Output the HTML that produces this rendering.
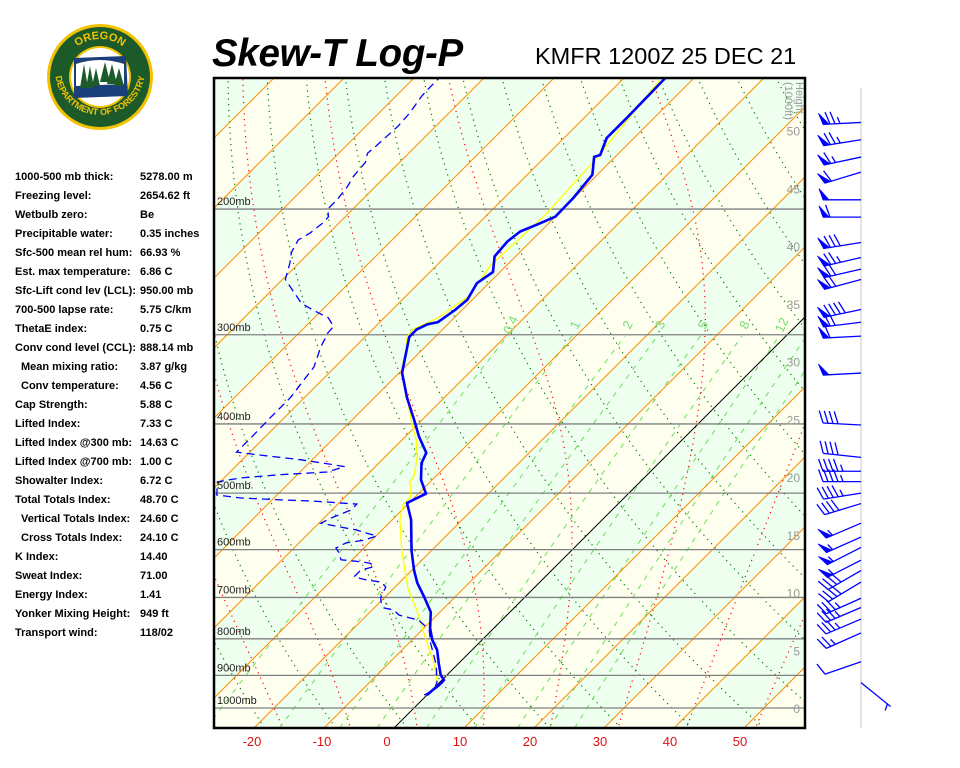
<!DOCTYPE html>
<html><head><meta charset="utf-8"><title>Skew-T Log-P KMFR</title>
<style>
html,body{margin:0;padding:0;background:#fff;}
body{width:960px;height:768px;overflow:hidden;position:relative;font-family:"Liberation Sans",Arial,sans-serif;}
.stats{position:absolute;left:15px;top:169px;font:bold 11px "Liberation Sans",Arial,sans-serif;color:#000;}
.row{height:19px;line-height:16px;position:relative;white-space:nowrap;}
.row .v{position:absolute;left:125px;top:0;}
.row.ind{padding-left:6px;}
</style></head>
<body>
<svg id="logo" width="210" height="150" style="position:absolute;left:0;top:20px" viewBox="0 0 210 150">
  <circle cx="100" cy="57" r="53" fill="#f2c200"/>
  <circle cx="100" cy="57" r="50" fill="#1d5a2a"/>
  <circle cx="100" cy="57" r="31" fill="#f2c200"/>
  <circle cx="100" cy="57" r="29" fill="#fff"/>
  <defs>
    <path id="arcTop" d="M62,57 A38,38 0 0 1 138,57"/>
    <path id="arcBot" d="M55,50 A45,45 0 0 0 145,50"/>
  </defs>
  <text font-family="Liberation Sans" font-weight="bold" font-size="11" fill="#f2c200"><textPath href="#arcTop" startOffset="50%" text-anchor="middle">OREGON</textPath></text>
  <text font-family="Liberation Sans" font-weight="bold" font-size="9" fill="#f2c200"><textPath href="#arcBot" startOffset="50%" text-anchor="middle">DEPARTMENT OF FORESTRY</textPath></text>
  <path d="M74,38 L126,36 L128,76 L74,78 Z" fill="#1a3f7a"/>
  <path d="M76,44 Q100,36 124,44 L124,64 L76,66 Z" fill="#fff"/>
  <g fill="#1d5a2a">
    <polygon points="80,68 84,44 88,68"/><polygon points="86,68 90,46 94,68"/>
    <polygon points="92,66 96,48 100,66"/><polygon points="100,62 105,42 110,62"/>
    <polygon points="107,64 112,44 117,64"/><polygon points="114,66 119,48 124,66"/>
  </g>
</svg>

<div class="stats">
<div class="row">1000-500 mb thick:<span class="v">5278.00 m</span></div>
<div class="row">Freezing level:<span class="v">2654.62 ft</span></div>
<div class="row">Wetbulb zero:<span class="v">Be</span></div>
<div class="row">Precipitable water:<span class="v">0.35 inches</span></div>
<div class="row">Sfc-500 mean rel hum:<span class="v">66.93 %</span></div>
<div class="row">Est. max temperature:<span class="v">6.86 C</span></div>
<div class="row">Sfc-Lift cond lev (LCL):<span class="v">950.00 mb</span></div>
<div class="row">700-500 lapse rate:<span class="v">5.75 C/km</span></div>
<div class="row">ThetaE index:<span class="v">0.75 C</span></div>
<div class="row">Conv cond level (CCL):<span class="v">888.14 mb</span></div>
<div class="row ind">Mean mixing ratio:<span class="v">3.87 g/kg</span></div>
<div class="row ind">Conv temperature:<span class="v">4.56 C</span></div>
<div class="row">Cap Strength:<span class="v">5.88 C</span></div>
<div class="row">Lifted Index:<span class="v">7.33 C</span></div>
<div class="row">Lifted Index @300 mb:<span class="v">14.63 C</span></div>
<div class="row">Lifted Index @700 mb:<span class="v">1.00 C</span></div>
<div class="row">Showalter Index:<span class="v">6.72 C</span></div>
<div class="row">Total Totals Index:<span class="v">48.70 C</span></div>
<div class="row ind">Vertical Totals Index:<span class="v">24.60 C</span></div>
<div class="row ind">Cross Totals Index:<span class="v">24.10 C</span></div>
<div class="row">K Index:<span class="v">14.40</span></div>
<div class="row">Sweat Index:<span class="v">71.00</span></div>
<div class="row">Energy Index:<span class="v">1.41</span></div>
<div class="row">Yonker Mixing Height:<span class="v">949 ft</span></div>
<div class="row">Transport wind:<span class="v">118/02</span></div>
</div>

<div style="position:absolute;left:212px;top:32px;font:italic bold 38.5px 'Liberation Sans',Arial,sans-serif;letter-spacing:-0.3px;">Skew-T Log-P</div>
<div style="position:absolute;left:535px;top:43px;font:23.5px 'Liberation Sans',Arial,sans-serif;">KMFR 1200Z 25 DEC 21</div>

<svg id="chart" width="960" height="768" style="position:absolute;left:0;top:0" xmlns="http://www.w3.org/2000/svg">
  <defs><clipPath id="plotclip"><rect x="214" y="78" width="591" height="650"/></clipPath></defs>
  <g id="bg" clip-path="url(#plotclip)"></g>
  <g id="grid" clip-path="url(#plotclip)"></g>
  <g id="series" clip-path="url(#plotclip)"></g>
  <g id="labels"></g>
  <g id="winds"></g>
</svg>

<script>
// ---- data ----
const tempP = [959,944,931,914,899,865,829,803,773,734,699,668,641,601,545,516,501,479,454,439,417,395,367,339,325,302,295,290,288,277,268,254,245,233,222,215,210,205,193,179,169,168,159,149,139,131];
const tempT = [0.0,0.1,0.3,0.3,-0.9,-2.9,-5.0,-7.1,-9.1,-11.3,-14.4,-17.4,-19.7,-22.9,-27.3,-30.3,-28.9,-31.6,-33.9,-34.7,-38.0,-41.1,-45.4,-49.6,-51.1,-53.7,-53.7,-52.9,-51.7,-51.0,-50.7,-51.7,-51.0,-53.0,-53.3,-52.9,-51.4,-50.0,-50.1,-50.7,-53.0,-52.4,-53.9,-53.9,-54.0,-54.1];
const dewP = [959,944,920,870,811,777,753,741,729,724,710,699,677,666,662,655,641,634,627,624,620,606,597,587,582,574,569,563,558,551,542,528,518,513,511,508,503,482,476,471,467,459,454,449,443,438,418,391,367,347,333,312,298,292,284,277,271,251,238,230,221,216,209,205,200,194,186,180,172,167,163,153,147,139,135,131];
const dewT = [-0.4,0.3,-0.4,-3.0,-6.9,-9.0,-11.9,-15.4,-16.9,-18.6,-19.9,-20.6,-21.3,-22.7,-25.0,-27.3,-27.3,-25.9,-26.9,-28.4,-31.6,-32.9,-34.0,-33.3,-31.1,-29.9,-31.7,-33.7,-36.3,-39.7,-39.0,-37.3,-37.3,-43.9,-48.7,-54.7,-58.6,-60.4,-57.6,-52.3,-46.1,-44.4,-47.9,-51.6,-57.4,-61.9,-61.9,-62.0,-62.0,-62.6,-63.0,-64.9,-65.9,-66.0,-68.0,-71.3,-73.9,-79.6,-81.3,-82.6,-83.4,-82.7,-82.3,-82.4,-83.6,-83.6,-84.0,-84.6,-84.9,-85.9,-85.7,-85.4,-85.6,-86.3,-86.4,-86.4];
const wbP = [944,908,857,803,729,683,641,601,545,519,506,490,482,475,445,421,399,382,358,336,315,302,295,284,265,240,204,171,132];
const wbT = [0.4,-1.0,-4.1,-8.0,-13.6,-17.7,-21.0,-24.3,-28.9,-30.6,-30.7,-32.0,-33.0,-33.0,-35.4,-38.0,-41.0,-43.3,-46.6,-50.1,-52.3,-54.0,-54.3,-52.3,-51.0,-52.3,-51.7,-52.4,-54.6];
const pressureLevels = [1000,900,800,700,600,500,400,300,200];
const pressureLabels = ["1000mb","900mb","800mb","700mb","600mb","500mb","400mb","300mb","200mb"];
const tempTicks = [-20,-10,0,10,20,30,40,50];
const tempTickX = [252,322,387,460,530,600,670,740];
const heightTicks = [0,5,10,15,20,25,30,35,40,45,50];
const mixRatios = [0.4,1,2,3,5,8,12,16,20];
const mixLabels = ["0.4","1","2","3","5","8","12","16","20"];
const windH = [50.7,49.2,47.7,46.4,44.0,42.5,40.3,39.0,38.0,37.1,34.5,33.4,32.2,29.0,24.5,21.7,20.5,19.6,18.6,17.7,16.0,14.8,13.9,12.8,11.9,10.9,9.5,8.7,7.7,6.5,4.0,2.2];
const windDir = [267,261,258,253,270,270,261,257,257,255,258,263,267,267,273,276,270,270,261,253,247,246,243,243,240,239,246,247,247,246,251,129];
const windSpd = [75,75,65,60,50,60,80,75,70,70,90,70,60,50,40,40,45,45,45,40,55,55,55,55,40,40,35,35,35,25,10,5];

// ---- axes ----
const NS='http://www.w3.org/2000/svg';
const Y0=708, KY=310, X0=414, KX=7, XL=214, XR=805, YT=78, YB=728;
function yP(p){return Y0-KY*Math.log(1000/p);}
function xT(T,y){return X0+KX*T+(Y0-y);}
function pY(y){return 1000*Math.exp(-(Y0-y)/KY);}
function yH(h){return Y0-11.55*h;}
function mk(tag,attrs,parent){const e=document.createElementNS(NS,tag);for(const k in attrs)e.setAttribute(k,attrs[k]);parent.appendChild(e);return e;}
const bg=document.getElementById('bg'), grid=document.getElementById('grid'), series=document.getElementById('series'), labels=document.getElementById('labels'), winds=document.getElementById('winds');

for(let a=-120;a<100;a+=10){
  const x1b=xT(a,YB), x2b=xT(a+10,YB), x1t=xT(a,YT), x2t=xT(a+10,YT);
  const band=mk('polygon',{points:`${x1b},${YB} ${x2b},${YB} ${x2t},${YT} ${x1t},${YT}`,fill:(Math.round(a/10)%2===0)?'#eefff0':'#fffff0'},bg);
  
  
}
function pathFrom(pts){return 'M'+pts.map(q=>q[0].toFixed(1)+','+q[1].toFixed(1)).join(' L');}
for(let th=200;th<=520;th+=10){
  const pts=[];
  for(let y=YB;y>=YT;y-=4){const p=pY(y);const T=th*Math.pow(p/1000,0.286)-273.15;pts.push([xT(T,y),y]);}
  const e=mk('path',{d:pathFrom(pts),fill:'none',stroke:'#007a00','stroke-width':1.2,'stroke-dasharray':'1.2,4.5'},grid);
  
  
}
function es(Tc){return 6.112*Math.exp(17.67*Tc/(Tc+243.5));}
function moistRate(Tk,p){const rs=0.622*es(Tk-273.15)/(p-es(Tk-273.15));return (287*Tk+2.5e6*rs)/(1004+(2.5e6*2.5e6*rs*0.622)/(287*Tk*Tk))/p;}
for(let t0=-50;t0<=50;t0+=10){
  let pts=[];let T=t0+273.15,p=1000;
  while(p<1075){const np=p+2;T+=moistRate(T,p)*2;p=np;}
  for(;p>=125;p-=2){const y=yP(p);pts.push([xT(T-273.15,y),y]);T-=moistRate(T,p)*2;}
  const e=mk('path',{d:pathFrom(pts),fill:'none',stroke:'#ff0000','stroke-width':1.2,'stroke-dasharray':'1.2,4.5'},grid);
  
  
}
mixRatios.forEach((w,i)=>{
  const pts=[];
  for(let y=YB;y>=yP(300);y-=4){const p=pY(y);const e=w*p/(622+w);const l=Math.log(e/6.112);const Td=243.5*l/(17.67-l);pts.push([xT(Td,y),y]);}
  const e=mk('path',{d:pathFrom(pts),fill:'none',stroke:'#66dd55','stroke-width':1,'stroke-dasharray':'5,6'},grid);
  
  
  const ly=yP(300)-8, lp=pY(ly), ee=w*lp/(622+w), ll=Math.log(ee/6.112), td=243.5*ll/(17.67-ll);
  const lx=xT(td,ly);
  if(lx<XR+2){
    const t=mk('text',{x:lx,y:ly,'font-size':13,fill:'#77dd77','font-family':'Liberation Sans, sans-serif','text-anchor':'middle',transform:`rotate(-65 ${lx} ${ly})`},labels);
    t.textContent=mixLabels[i];
    
    
  }
});
for(let T=-120;T<=100;T+=10){
  const e=mk('line',{x1:xT(T,YB),y1:YB,x2:xT(T,YT),y2:YT,stroke:T===0?'#000':'#ff8c00','stroke-width':1},grid);
  
  
}
pressureLevels.forEach((p,i)=>{
  const y=yP(p);
  const e=mk('line',{x1:XL,y1:y,x2:XR,y2:y,stroke:'#808080','stroke-width':1.3},grid);
  
  
  const t=mk('text',{x:217,y:y-4,'font-size':11,fill:'#222','font-family':'Liberation Sans, sans-serif'},labels);
  t.textContent=pressureLabels[i];
  
  
});
heightTicks.forEach(h=>{
  const t=mk('text',{x:800,y:yH(h)+5,'font-size':12,fill:'#999','font-family':'Liberation Sans, sans-serif','text-anchor':'end'},labels);
  t.textContent=String(h);
  
  
});
const ht=mk('text',{x:0,y:0,'font-size':11,fill:'#999','font-family':'Liberation Sans, sans-serif',transform:'translate(796,82) rotate(90)'},labels);
ht.textContent='Height';


const ht2=mk('text',{x:0,y:0,'font-size':11,fill:'#999','font-family':'Liberation Sans, sans-serif',transform:'translate(785,82) rotate(90)'},labels);
ht2.textContent='(1000ft)';


tempTicks.forEach((T,i)=>{
  const t=mk('text',{x:tempTickX[i],y:746,'font-size':13,fill:'#e01010','font-family':'Liberation Sans, sans-serif','text-anchor':'middle'},labels);
  t.textContent=String(T);
  
  
});
function profile(P,T){return P.map((p,i)=>{const y=yP(p);return [xT(T[i],y),y];});}
const wb=mk('path',{d:pathFrom(profile(wbP,wbT)),fill:'none',stroke:'#ffff00','stroke-width':1.3},series);


const dw=mk('path',{d:pathFrom(profile(dewP,dewT)),fill:'none',stroke:'#0000ff','stroke-width':1.3,'stroke-dasharray':'8,5'},series);


const tl=mk('path',{d:pathFrom(profile(tempP,tempT)),fill:'none',stroke:'#0000ff','stroke-width':2.6,'stroke-linejoin':'round'},series);


const fr=mk('rect',{x:XL,y:YT,width:XR-XL,height:YB-YT,fill:'none',stroke:'#000','stroke-width':2.5},labels);


const wl=mk('line',{x1:861,y1:88,x2:861,y2:728,stroke:'#e4e4e4','stroke-width':2},winds);


windH.forEach((h,i)=>{
  const bx=861, by=yH(h), L=38, d=windDir[i]*Math.PI/180;
  const ux=Math.sin(d), uy=-Math.cos(d);
  const tx=bx+L*ux, ty=by+L*uy;
  const px=-uy, py=ux;
  const g=mk('g',{stroke:'#0000ff',fill:'#0000ff','stroke-width':1.3},winds);
  
  
  mk('line',{x1:bx,y1:by,x2:tx,y2:ty},g);
  let s=windSpd[i], pos=0;
  const vx=(px*0.94+ux*0.34), vy=(py*0.94+uy*0.34);
  while(s>=50){
    const ax=tx-ux*pos, ay=ty-uy*pos, cx=tx-ux*(pos+6), cy=ty-uy*(pos+6);
    mk('polygon',{points:`${ax},${ay} ${ax+vx*12},${ay+vy*12} ${cx},${cy}`,'stroke-width':0.8},g);
    pos+=7; s-=50;
  }
  while(s>=10){
    const ax=tx-ux*pos, ay=ty-uy*pos;
    mk('line',{x1:ax,y1:ay,x2:ax+vx*13,y2:ay+vy*13},g);
    pos+=5; s-=10;
  }
  if(s>=5){
    if(pos===0)pos=4;
    const ax=tx-ux*pos, ay=ty-uy*pos;
    mk('line',{x1:ax,y1:ay,x2:ax+vx*7,y2:ay+vy*7},g);
  }
});
</script>
</body></html>
